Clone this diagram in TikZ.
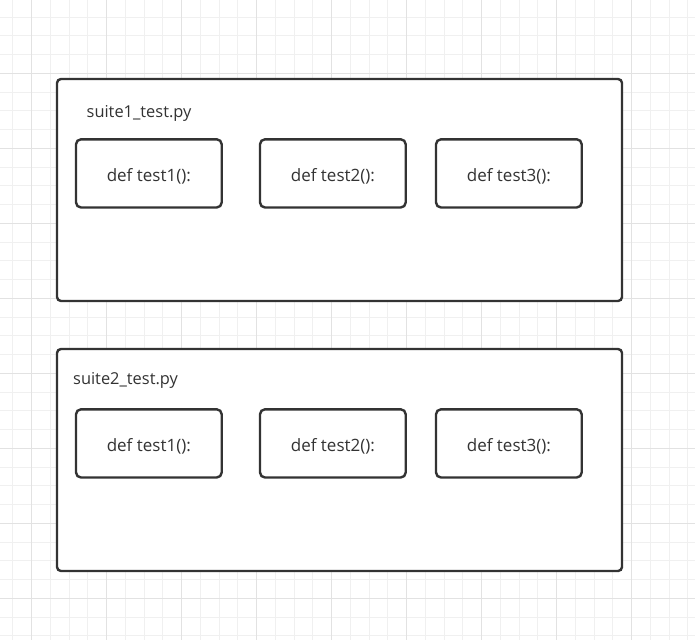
\documentclass[tikz,border=0pt]{standalone}
\usepackage{fontspec}
\setmainfont{Open Sans}
\definecolor{gridminor}{HTML}{F0F0F0}
\definecolor{gridmajor}{HTML}{E2E2E2}
\definecolor{boxline}{HTML}{333333}
\definecolor{txt}{HTML}{333333}
\begin{document}
\begin{tikzpicture}[x=1pt,y=-1pt,
  outerbox/.style={draw=boxline,line width=2.4pt,fill=white,rounded corners=4pt},
  innerbox/.style={draw=boxline,line width=2.4pt,fill=white,rounded corners=5pt},
  lbl/.style={inner sep=0pt,text=txt,font=\fontsize{17}{20}\selectfont},
  title/.style={inner sep=0pt,text=txt,font=\fontsize{16.4}{20}\selectfont},
  minorline/.style={draw=gridminor,line width=1pt},
  majorline/.style={draw=gridmajor,line width=1pt}]
\useasboundingbox (0,0) rectangle (695,640);
\fill[white] (0,0) rectangle (695,640);
% grid
\foreach \k in {0,...,36}{
  \pgfmathsetmacro{\gx}{12.95+18.75*\k}
  \draw[minorline] (\gx,0) -- (\gx,640);
}
\foreach \k in {-3,...,30}{
  \pgfmathsetmacro{\gy}{73.3+18.75*\k}
  \draw[minorline] (0,\gy) -- (695,\gy);
}
\foreach \k in {0,...,9}{
  \pgfmathsetmacro{\gx}{31.7+75*\k}
  \draw[majorline] (\gx,0) -- (\gx,640);
}
\foreach \k in {0,...,7}{
  \pgfmathsetmacro{\gy}{73.3+75*\k}
  \draw[majorline] (0,\gy) -- (695,\gy);
}
% suite 1
\draw[outerbox] (57,79) rectangle (622,301);
\node[title,anchor=base west] (s1) at (86.5,117.7) {suite1\_test.py};
\draw[innerbox] (76,139.3) rectangle (221.7,207.5);
\draw[innerbox] (260,139.3) rectangle (405.7,207.5);
\draw[innerbox] (436,139.3) rectangle (581.7,207.5);
\node[lbl,anchor=base] (a1) at (148.8,181.8) {def test1():};
\node[lbl,anchor=base] (a2) at (332.9,181.8) {def test2():};
\node[lbl,anchor=base] (a3) at (508.9,181.8) {def test3():};
% suite 2
\draw[outerbox] (57,349) rectangle (622,571);
\node[title,anchor=base west] (s2) at (73,384.7) {suite2\_test.py};
\draw[innerbox] (76,409.3) rectangle (221.7,477.5);
\draw[innerbox] (260,409.3) rectangle (405.7,477.5);
\draw[innerbox] (436,409.3) rectangle (581.7,477.5);
\node[lbl,anchor=base] (b1) at (148.8,451.8) {def test1():};
\node[lbl,anchor=base] (b2) at (332.9,451.8) {def test2():};
\node[lbl,anchor=base] (b3) at (508.9,451.8) {def test3():};
\end{tikzpicture}
\end{document}
